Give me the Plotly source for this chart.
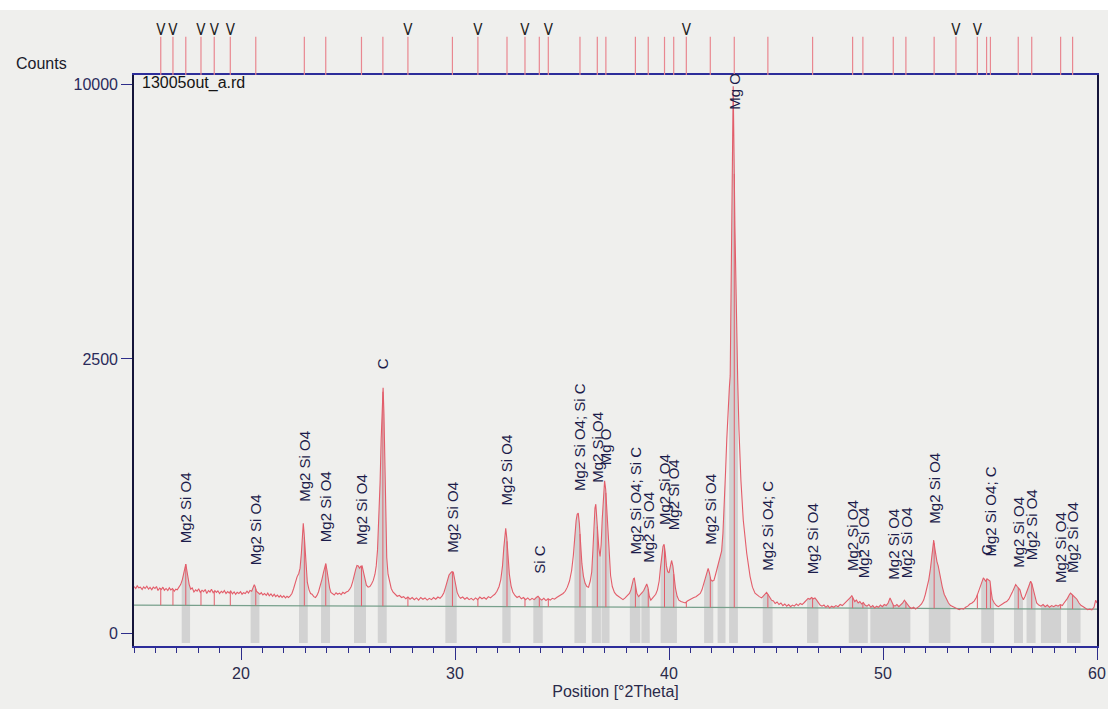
import numpy as np
import plotly.graph_objects as go

# ---------------- data ----------------
two_theta = [15.00, 15.08, 15.15, 15.22, 15.30, 15.38, 15.45, 15.52, 15.60, 15.68, 15.75, 15.83, 15.90, 15.98,
             16.05, 16.12, 16.20, 16.28, 16.35, 16.42, 16.50, 16.58, 16.65, 16.72, 16.80, 16.88, 16.95, 17.02,
             17.10, 17.18, 17.26, 17.32, 17.38, 17.42, 17.47, 17.52, 17.58, 17.65, 17.72, 17.80, 17.88, 17.95,
             18.02, 18.10, 18.18, 18.25, 18.33, 18.40, 18.48, 18.55, 18.62, 18.70, 18.78, 18.85, 18.92, 19.00,
             19.08, 19.15, 19.22, 19.30, 19.38, 19.45, 19.52, 19.60, 19.68, 19.75, 19.82, 19.90, 19.98, 20.05,
             20.12, 20.20, 20.28, 20.35, 20.42, 20.50, 20.56, 20.62, 20.66, 20.72, 20.80, 20.88, 20.95, 21.02,
             21.10, 21.18, 21.25, 21.32, 21.40, 21.48, 21.55, 21.62, 21.70, 21.78, 21.85, 21.92, 22.00, 22.08,
             22.15, 22.22, 22.30, 22.38, 22.46, 22.54, 22.62, 22.70, 22.76, 22.82, 22.87, 22.91, 22.95, 23.00,
             23.05, 23.10, 23.18, 23.25, 23.32, 23.40, 23.48, 23.55, 23.62, 23.70, 23.78, 23.85, 23.92, 23.96,
             24.02, 24.08, 24.14, 24.20, 24.28, 24.36, 24.44, 24.52, 24.60, 24.68, 24.76, 24.84, 24.92, 25.00,
             25.08, 25.15, 25.22, 25.30, 25.36, 25.42, 25.48, 25.54, 25.60, 25.66, 25.72, 25.78, 25.86, 25.94,
             26.02, 26.10, 26.18, 26.26, 26.32, 26.38, 26.44, 26.50, 26.55, 26.60, 26.64, 26.68, 26.72, 26.76,
             26.81, 26.87, 26.94, 27.02, 27.10, 27.20, 27.30, 27.40, 27.50, 27.60, 27.70, 27.80, 27.90, 28.00,
             28.10, 28.20, 28.30, 28.40, 28.50, 28.60, 28.70, 28.80, 28.90, 29.00, 29.10, 29.20, 29.30, 29.40,
             29.48, 29.56, 29.64, 29.72, 29.80, 29.86, 29.92, 29.98, 30.04, 30.10, 30.18, 30.26, 30.36, 30.46,
             30.56, 30.66, 30.76, 30.86, 30.96, 31.06, 31.16, 31.26, 31.36, 31.46, 31.56, 31.66, 31.76, 31.86,
             31.96, 32.06, 32.14, 32.22, 32.28, 32.33, 32.37, 32.42, 32.48, 32.54, 32.62, 32.70, 32.80, 32.90,
             33.00, 33.10, 33.20, 33.30, 33.40, 33.50, 33.60, 33.70, 33.80, 33.88, 33.96, 34.05, 34.15, 34.25,
             34.35, 34.45, 34.55, 34.65, 34.75, 34.85, 34.95, 35.05, 35.15, 35.25, 35.35, 35.45, 35.53, 35.60,
             35.66, 35.71, 35.76, 35.81, 35.87, 35.93, 36.00, 36.08, 36.16, 36.24, 36.32, 36.39, 36.44, 36.49,
             36.54, 36.58, 36.62, 36.67, 36.72, 36.78, 36.83, 36.88, 36.94, 36.99, 37.04, 37.09, 37.14, 37.20,
             37.27, 37.35, 37.45, 37.55, 37.65, 37.75, 37.85, 37.95, 38.05, 38.15, 38.22, 38.28, 38.34, 38.38,
             38.43, 38.50, 38.58, 38.66, 38.74, 38.82, 38.90, 38.96, 39.02, 39.08, 39.15, 39.22, 39.30, 39.38,
             39.46, 39.54, 39.60, 39.66, 39.72, 39.77, 39.82, 39.88, 39.94, 40.00, 40.06, 40.12, 40.18, 40.24,
             40.30, 40.38, 40.46, 40.56, 40.66, 40.76, 40.86, 40.96, 41.06, 41.16, 41.26, 41.36, 41.46, 41.54,
             41.62, 41.70, 41.77, 41.83, 41.89, 41.95, 42.02, 42.10, 42.17, 42.25, 42.33, 42.40, 42.46, 42.52,
             42.58, 42.64, 42.70, 42.76, 42.82, 42.86, 42.92, 43.00, 43.08, 43.14, 43.21, 43.27, 43.36, 43.47,
             43.63, 43.79, 43.90, 44.02, 44.12, 44.22, 44.33, 44.42, 44.50, 44.56, 44.62, 44.70, 44.79, 44.88,
             44.96, 45.05, 45.14, 45.23, 45.32, 45.41, 45.50, 45.59, 45.68, 45.77, 45.86, 45.95, 46.04, 46.13,
             46.22, 46.32, 46.42, 46.50, 46.58, 46.66, 46.74, 46.82, 46.90, 46.98, 47.06, 47.15, 47.24, 47.33,
             47.42, 47.51, 47.60, 47.70, 47.80, 47.90, 48.00, 48.10, 48.20, 48.30, 48.40, 48.48, 48.54, 48.60,
             48.68, 48.76, 48.84, 48.92, 49.00, 49.08, 49.16, 49.25, 49.34, 49.43, 49.52, 49.61, 49.70, 49.79,
             49.88, 49.97, 50.06, 50.15, 50.24, 50.33, 50.40, 50.48, 50.56, 50.65, 50.74, 50.83, 50.92, 51.00,
             51.08, 51.16, 51.25, 51.34, 51.43, 51.52, 51.61, 51.70, 51.80, 51.90, 51.98, 52.06, 52.14, 52.22,
             52.28, 52.33, 52.37, 52.42, 52.47, 52.52, 52.58, 52.64, 52.70, 52.77, 52.86, 52.96, 53.06, 53.16,
             53.26, 53.36, 53.46, 53.56, 53.66, 53.76, 53.86, 53.96, 54.06, 54.16, 54.26, 54.36, 54.45, 54.54,
             54.62, 54.69, 54.75, 54.80, 54.86, 54.92, 55.00, 55.05, 55.11, 55.20, 55.30, 55.39, 55.48, 55.58,
             55.68, 55.78, 55.88, 55.96, 56.04, 56.12, 56.20, 56.27, 56.34, 56.40, 56.48, 56.56, 56.64, 56.71,
             56.78, 56.85, 56.90, 56.96, 57.02, 57.10, 57.18, 57.28, 57.38, 57.48, 57.58, 57.68, 57.78, 57.88,
             57.98, 58.08, 58.18, 58.28, 58.38, 58.46, 58.54, 58.62, 58.70, 58.76, 58.82, 58.90, 58.98, 59.06,
             59.16, 59.26, 59.36, 59.46, 59.56, 59.66, 59.76, 59.86, 59.94, 60.00]

counts = [72, 66, 74, 68, 70, 63, 71, 66, 73, 64, 69, 62, 70, 66,
          72, 60, 67, 63, 70, 61, 66, 60, 68, 62, 66, 58, 64, 62,
          70, 78, 95, 118, 145, 158, 130, 95, 78, 64, 68, 56, 62, 58,
          65, 55, 61, 57, 63, 52, 60, 56, 64, 54, 60, 55, 59, 52,
          58, 54, 60, 52, 57, 53, 59, 51, 56, 50, 55, 52, 57, 50,
          54, 52, 58, 53, 60, 58, 66, 78, 72, 58, 54, 50, 54, 48,
          52, 47, 53, 46, 51, 45, 50, 44, 48, 43, 47, 42, 46, 41,
          45, 42, 46, 52, 66, 88, 105, 118, 140, 210, 320, 400, 330, 210,
          130, 85, 62, 52, 50, 44, 42, 47, 56, 72, 95, 120, 150, 160,
          130, 92, 68, 55, 52, 48, 54, 50, 53, 49, 55, 52, 56, 58,
          64, 72, 88, 118, 135, 152, 150, 140, 148, 150, 125, 95, 76, 70,
          72, 80, 92, 115, 150, 230, 420, 760, 1250, 1750, 2000, 1600, 900, 420,
          190, 115, 85, 66, 56, 50, 45, 47, 42, 44, 39, 43, 38, 42,
          37, 41, 36, 42, 38, 41, 36, 40, 37, 42, 38, 43, 40, 46,
          54, 70, 95, 112, 120, 125, 123, 100, 75, 55, 45, 40, 43, 38,
          42, 37, 40, 36, 41, 37, 43, 39, 42, 38, 44, 41, 46, 50,
          58, 72, 95, 150, 240, 330, 365, 300, 190, 115, 74, 56, 47, 42,
          45, 39, 42, 37, 41, 36, 40, 37, 42, 45, 40, 36, 40, 35,
          39, 36, 40, 38, 42, 45, 48, 52, 58, 70, 90, 130, 200, 320,
          420, 470, 478, 400, 260, 160, 108, 82, 72, 70, 90, 125, 220, 380,
          520, 552, 450, 330, 240, 195, 260, 430, 650, 772, 690, 520, 330, 190,
          110, 72, 55, 48, 44, 40, 37, 41, 46, 52, 62, 80, 98, 100,
          78, 52, 44, 48, 54, 60, 72, 80, 68, 45, 36, 40, 44, 50,
          62, 90, 140, 200, 250, 262, 220, 150, 125, 120, 140, 175, 150, 100,
          68, 45, 36, 33, 31, 30, 34, 37, 39, 42, 44, 48, 52, 62,
          80, 105, 125, 139, 120, 95, 90, 92, 112, 140, 170, 200, 225, 330,
          520, 850, 1250, 1705, 2000, 2200, 4885, 9950, 5500, 3200, 2131, 1372, 780, 425,
          213, 106, 70, 53, 48, 44, 41, 46, 52, 55, 50, 42, 36, 34,
          29, 32, 27, 30, 25, 28, 24, 27, 23, 26, 24, 28, 25, 29,
          27, 31, 35, 40, 38, 42, 39, 41, 36, 30, 26, 24, 26, 22,
          25, 21, 24, 22, 25, 23, 27, 25, 29, 32, 36, 42, 47, 40,
          33, 36, 30, 33, 28, 31, 26, 24, 27, 22, 25, 21, 24, 22,
          26, 23, 27, 25, 30, 41, 32, 26, 24, 27, 23, 26, 30, 36,
          31, 25, 22, 20, 22, 19, 21, 24, 28, 36, 50, 70, 95, 140,
          210, 270, 288, 240, 195, 170, 150, 120, 95, 71, 50, 38, 30, 25,
          23, 21, 19, 18, 20, 19, 22, 24, 28, 30, 34, 42, 55, 72,
          88, 101, 95, 88, 98, 95, 90, 60, 38, 30, 25, 23, 26, 28,
          31, 33, 38, 45, 55, 66, 78, 72, 66, 62, 45, 37, 45, 56,
          72, 86, 89, 80, 66, 45, 30, 26, 24, 27, 23, 26, 22, 25,
          23, 26, 24, 27, 25, 30, 34, 40, 48, 53, 50, 46, 41, 38,
          30, 25, 23, 20, 18, 19, 18, 22, 36, 30]

# background line (start / end counts)
bg_theta = [15.0, 60.0]
bg_counts = [26, 19]

# reference (phase) positions shown as sticks above the frame
ref_positions = [16.25, 16.82, 17.42, 18.13, 18.75, 19.50, 20.69, 22.96, 23.96, 25.63, 26.63, 27.80,
                 29.88, 31.07, 32.43, 33.27, 33.94, 34.36, 35.84, 36.65, 37.05, 38.43, 39.03, 39.79,
                 40.22, 40.81, 41.93, 43.05, 44.62, 46.71, 48.58, 49.06, 50.48, 51.07, 52.39, 53.41,
                 54.41, 54.84, 55.02, 56.32, 56.95, 58.30, 58.86]
flagged_positions = [16.25, 16.82, 18.13, 18.75, 19.50, 27.80, 31.07, 33.27, 34.36, 40.81, 53.41, 54.41]

# shaded peak bands (start, end in degrees)
band_start = [17.23, 20.45, 22.71, 23.74, 25.28, 26.39, 29.55, 32.21, 33.66, 35.58, 36.39, 36.85, 38.17,
              38.71, 39.61, 41.64, 42.27, 42.81, 44.38, 46.45, 48.40, 49.41, 52.14, 54.59, 56.12, 56.71,
              57.38, 58.60]
band_end = [17.62, 20.86, 23.12, 24.16, 25.84, 26.81, 30.08, 32.60, 34.10, 36.12, 36.82, 37.22, 38.66,
            39.10, 40.37, 42.07, 42.64, 43.22, 44.84, 46.98, 49.29, 51.28, 53.15, 55.19, 56.54, 57.13,
            58.32, 59.23]

# peak labels
label_pos = [17.42, 20.69, 22.96, 23.96, 25.63, 26.63, 29.88, 32.43, 33.94, 35.84, 36.65, 37.05, 38.43,
             39.03, 39.79, 40.22, 41.93, 43.05, 44.62, 46.71, 48.58, 49.06, 50.48, 51.07, 52.39, 54.84,
             55.02, 56.32, 56.95, 58.30, 58.86]
label_text = ["Mg2 Si O4", "Mg2 Si O4", "Mg2 Si O4", "Mg2 Si O4", "Mg2 Si O4", "C", "Mg2 Si O4",
              "Mg2 Si O4", "Si C", "Mg2 Si O4; Si C", "Mg2 Si O4", "Mg O", "Mg2 Si O4; Si C",
              "Mg2 Si O4", "Mg2 Si O4", "Mg2 Si O4", "Mg2 Si O4", "Mg O", "Mg2 Si O4; C", "Mg2 Si O4",
              "Mg2 Si O4", "Mg2 Si O4", "Mg2 Si O4", "Mg2 Si O4", "Mg2 Si O4", "C", "Mg2 Si O4; C",
              "Mg2 Si O4", "Mg2 Si O4", "Mg2 Si O4", "Mg2 Si O4"]
label_height = [258, 145, 554, 264, 246, 2286, 203, 520, 108, 653, 729, 918, 197, 154, 374, 340, 246,
                9039, 120, 108, 120, 94, 87, 94, 381, 192, 187, 132, 168, 77, 112]

y_ticks = [0, 2500, 10000]

# ---------------- figure ----------------
RED = "#e35d6a"
STICK = "#e98790"
GRAY = "#d2d2d2"
BG = "#efefed"
TXT = "#1c1c4a"

x = np.array(two_theta)
ys = np.sqrt(np.array(counts, dtype=float))  # square-root intensity scale
y_bottom = -1.8
y_min, y_max = -2.37, 101.8

fig = go.Figure()

# gray shaded peak bands
for s, e in zip(band_start, band_end):
    inside = (x > s) & (x < e)
    bx = [s] + list(x[inside]) + [e]
    by = [float(np.interp(s, x, ys))] + list(ys[inside]) + [float(np.interp(e, x, ys))]
    fig.add_trace(go.Scatter(x=bx + [e, s, s], y=by + [y_bottom, y_bottom, by[0]],
                             mode="lines", fill="toself", fillcolor=GRAY,
                             line=dict(width=0, color=GRAY), hoverinfo="skip", showlegend=False))

# background line
fig.add_trace(go.Scatter(x=bg_theta, y=np.sqrt(bg_counts), mode="lines",
                         line=dict(color="#78a08c", width=1.2), hoverinfo="skip", showlegend=False))

# drop lines at the reference positions (background -> curve)
dx, dy = [], []
for p in ref_positions:
    b = float(np.interp(p, bg_theta, np.sqrt(bg_counts)))
    dx += [p, p, None]
    dy += [b, float(np.interp(p, x, ys)), None]
fig.add_trace(go.Scatter(x=dx, y=dy, mode="lines", line=dict(color=RED, width=1),
                         hoverinfo="skip", showlegend=False))

# measured pattern
fig.add_trace(go.Scatter(x=two_theta, y=ys, mode="lines", line=dict(color=RED, width=1.1),
                         showlegend=False))

# reference sticks above the frame
sx, sy = [], []
for p in ref_positions:
    sx += [p, p, None]
    sy += [0, 0.67, None]
fig.add_trace(go.Scatter(x=sx, y=sy, xaxis="x", yaxis="y2", mode="lines",
                         line=dict(color=STICK, width=1.2), hoverinfo="skip", showlegend=False))
fig.add_trace(go.Scatter(x=flagged_positions, y=[0.76] * len(flagged_positions), xaxis="x", yaxis="y2",
                         mode="text", text=["V"] * len(flagged_positions),
                         textfont=dict(size=15, color="#222222",
                                       family="Liberation Sans Narrow, DejaVu Sans Condensed, Liberation Sans"),
                         hoverinfo="skip", showlegend=False))

annotations = []
for p, t, h in zip(label_pos, label_text, label_height):
    annotations.append(dict(x=p, y=float(np.sqrt(h)), xref="x", yref="y", text=t, textangle=-90,
                            showarrow=False, xanchor="center", yanchor="bottom",
                            font=dict(size=15, color=TXT, family="Liberation Sans")))

annotations.append(dict(x=0.006, y=0.8965, xref="paper", yref="paper", text="13005out_a.rd",
                        showarrow=False, xanchor="left", yanchor="middle",
                        font=dict(size=16, color="#151515", family="Liberation Sans")))
annotations.append(dict(x=-0.1245, y=0.928, xref="paper", yref="paper", text="Counts",
                        showarrow=False, xanchor="left", yanchor="middle",
                        font=dict(size=16, color="#1a1a2a", family="Liberation Sans")))

main_top = (646 - 75) / 628

fig.update_layout(
    width=1108, height=709,
    margin=dict(l=134, r=11, t=18, b=63),
    paper_bgcolor=BG, plot_bgcolor=BG,
    font=dict(family="Liberation Sans", color=TXT),
    xaxis=dict(range=[15, 60], domain=[0, 1], anchor="y", tick0=0, dtick=10,
               ticks="outside", ticklen=12, tickwidth=1, tickcolor="#2d2d8a",
               minor=dict(dtick=1, ticks="outside", ticklen=5, tickcolor="#2d2d8a"),
               showline=True, linecolor="#2d2d9a", linewidth=1.6, mirror=True,
               showgrid=False, zeroline=False, automargin=False,
               tickfont=dict(size=16, color="#2a2a4a"),
               title=dict(text="Position [°2Theta]", font=dict(size=16, color="#2a2a4a"), standoff=5)),
    yaxis=dict(range=[y_min, y_max], domain=[0, main_top], anchor="x",
               tickvals=[float(np.sqrt(v)) for v in y_ticks], ticktext=[str(v) for v in y_ticks],
               ticks="outside", ticklen=11, tickcolor="#2d2d8a",
               showline=True, linecolor="#15153a", linewidth=1.6, mirror=True,
               showgrid=False, zeroline=False, automargin=False,
               tickfont=dict(size=16, color="#2a2a5a")),
    yaxis2=dict(range=[0, 1], domain=[main_top, 1], anchor="x", visible=False),
    annotations=annotations,
    shapes=[dict(type="rect", xref="paper", yref="paper", x0=-0.2, x1=1.2,
                 y0=(646 - 10) / 628, y1=1.2, fillcolor="white", line=dict(width=0), layer="below")],
)

fig.write_html("out.html", config={"displayModeBar": False},
               post_script="document.body.style.margin='0px';document.body.style.overflow='hidden';")
